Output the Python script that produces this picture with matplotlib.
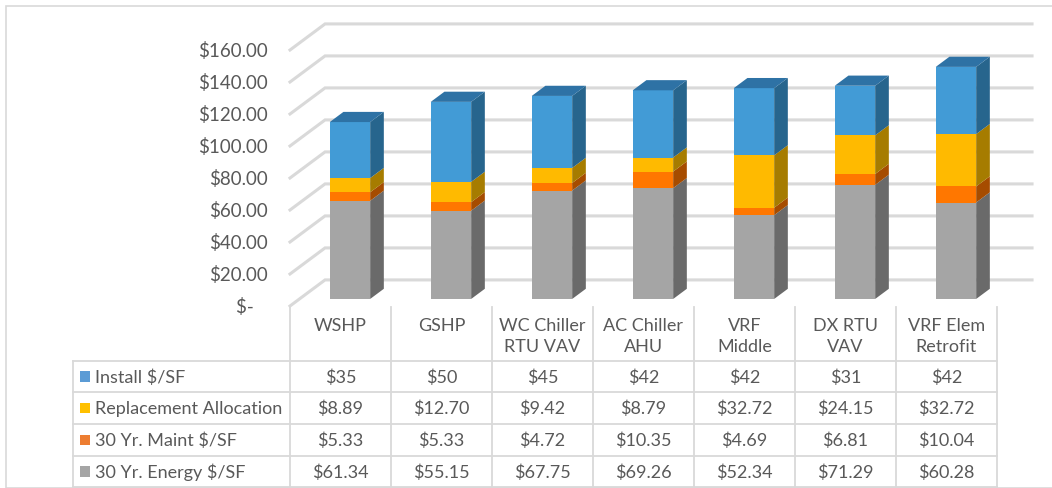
import matplotlib.pyplot as plt
from matplotlib.patches import Polygon, Rectangle

########
# Data
########
categories = ["WSHP", "GSHP", "WC Chiller\nRTU VAV", "AC Chiller\nAHU",
              "VRF\nMiddle", "DX RTU\nVAV", "VRF Elem\nRetrofit"]

install = [35, 50, 45, 42, 42, 31, 42]
replacement = [8.89, 12.70, 9.42, 8.79, 32.72, 24.15, 32.72]
maint = [5.33, 5.33, 4.72, 10.35, 4.69, 6.81, 10.04]
energy = [61.34, 55.15, 67.75, 69.26, 52.34, 71.29, 60.28]

series_names = ["Install $/SF", "Replacement Allocation",
                "30 Yr. Maint $/SF", "30 Yr. Energy $/SF"]
table_labels = [
    ["$35", "$50", "$45", "$42", "$42", "$31", "$42"],
    ["$8.89", "$12.70", "$9.42", "$8.79", "$32.72", "$24.15", "$32.72"],
    ["$5.33", "$5.33", "$4.72", "$10.35", "$4.69", "$6.81", "$10.04"],
    ["$61.34", "$55.15", "$67.75", "$69.26", "$52.34", "$71.29", "$60.28"],
]
yticks = [0, 20, 40, 60, 80, 100, 120, 140, 160]
ytick_labels = ["$-   ", "$20.00", "$40.00", "$60.00", "$80.00",
                "$100.00", "$120.00", "$140.00", "$160.00"]

########
# Style
########
W, H = 1052, 489
plt.rcParams["font.family"] = ["Lato", "DejaVu Sans"]
TXT = "#595959"
GRID = "#D9D9D9"
FS = 13

# colours: (front, side, top)
styles = {
    "energy": ("#A5A5A5", "#6A6A6A", "#858585"),
    "maint": ("#FF7700", "#A64C00", "#C95E00"),
    "replacement": ("#FFBA00", "#A67C00", "#CC9500"),
    "install": ("#429BD6", "#27658D", "#2E72A5"),
}
legend_colors = ["#5B9BD5", "#FFC000", "#ED7D31", "#A5A5A5"]

# oblique 3d: full depth offset in data units
DX, DY = 0.347, 16.3
D0, D1 = 0.27, 0.66     # bar front / back depth
BW = 0.40               # bar width


def proj(x, y, d):
    return (x + d * DX, y + d * DY)


fig = plt.figure(figsize=(W / 100, H / 100), dpi=100)

# outer border
fig.patches.append(Rectangle((6 / W, 0), 1, 1 - 7 / H, transform=fig.transFigure,
                             fill=False, ec="#D9D9D9", lw=1.2))

# chart axes: front plane, x=-0.5..6.5 -> px 290..997, y 0..160 -> px 307..51
ax = fig.add_axes([290 / W, (H - 307) / H, 707 / W, 256 / H])
ax.set_xlim(-0.5, 6.5)
ax.set_ylim(0, 160)
ax.axis("off")

n = len(categories)
# back wall gridlines + left wall diagonals
for v in yticks:
    x0, y0 = proj(-0.5, v, 0)
    x1, y1 = proj(-0.5, v, 1)
    x2, _ = proj(n - 0.5, v, 1)
    ax.plot([x0, x1, x2], [y0, y1, y1], color=GRID, lw=2.2,
            clip_on=False, zorder=1, solid_joinstyle="miter")

for v, lab in zip(yticks, ytick_labels):
    ax.text(-0.5 - 22 / 101, v, lab, ha="right", va="center", fontsize=FS + 0.5,
            color=TXT)

# stacked 3d bars
stack = [("energy", energy), ("maint", maint),
         ("replacement", replacement), ("install", install)]
for i in range(n):
    base = 0.0
    xl, xr = i - BW / 2, i + BW / 2
    segs = []
    for key, vals in stack:
        segs.append((key, base, base + vals[i]))
        base += vals[i]
    for key, lo, hi in segs:
        front, side, top = styles[key]
        fx, fy = proj(xl, lo, D0)
        ax.bar(fx, hi - lo, bottom=fy, width=BW, align="edge", color=front,
               lw=0, clip_on=False, zorder=3)
        side_pts = [proj(xr, lo, D0), proj(xr, hi, D0),
                    proj(xr, hi, D1), proj(xr, lo, D1)]
        ax.add_patch(Polygon(side_pts, closed=True, fc=side, lw=0,
                             clip_on=False, zorder=3))
    front, side, top = styles[segs[-1][0]]
    total = segs[-1][2]
    top_pts = [proj(xl, total, D0), proj(xr, total, D0),
               proj(xr, total, D1), proj(xl, total, D1)]
    ax.add_patch(Polygon(top_pts, closed=True, fc=top, lw=0,
                         clip_on=False, zorder=3))

########
# Data table
########
HDR = 53.7 / 31.65
LABW = 217 / 101
tax = fig.add_axes([73 / W, (H - 488.3) / H, 924 / W, 180.3 / H])
tax.set_xlim(-0.5 - LABW, n - 0.5)
tax.set_ylim(HDR + 4, 0)
tax.axis("off")

lw_t = 1.3
for j in range(n + 1):
    tax.plot([j - 0.5, j - 0.5], [0, HDR + 4], color=GRID, lw=lw_t, clip_on=False)
tax.plot([-0.5 - LABW] * 2, [HDR, HDR + 4], color=GRID, lw=lw_t, clip_on=False)
for r in range(5):
    tax.plot([-0.5 - LABW, n - 0.5], [HDR + r] * 2, color=GRID, lw=lw_t,
             clip_on=False)

for j, cat in enumerate(categories):
    tax.text(j, 0.33, cat, ha="center", va="top", fontsize=FS, color=TXT,
             linespacing=1.38)

for r, name in enumerate(series_names):
    yc = HDR + r + 0.5
    tax.add_patch(Rectangle((-0.5 - LABW + 7 / 101, yc - 0.16), 10 / 101, 0.32,
                            fc=legend_colors[r], lw=0))
    tax.text(-0.5 - LABW + 22 / 101, yc, name, ha="left", va="center",
             fontsize=FS, color=TXT)
    for j in range(n):
        tax.text(j, yc, table_labels[r][j], ha="center", va="center",
                 fontsize=FS, color=TXT)

fig.savefig("out.png", dpi=100)
